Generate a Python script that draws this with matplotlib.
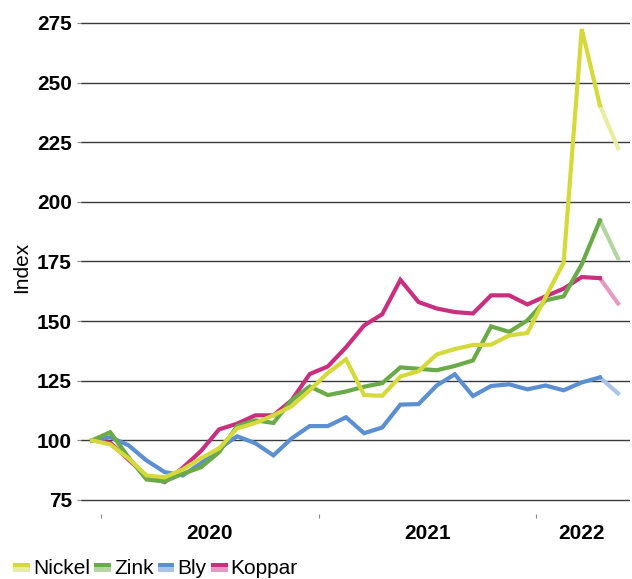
import numpy as np
import pandas as pd
import matplotlib
matplotlib.use('Agg')
import matplotlib.pyplot as plt
from matplotlib.patches import Rectangle
from matplotlib.legend_handler import HandlerBase

plt.rcParams['font.family'] = ['Liberation Sans', 'DejaVu Sans']

# Monthly metal price index, Dec 2019 = 100 (last month preliminary, drawn faded)
months = pd.period_range('2019-12', '2022-05', freq='M')

nickel = [100, 98.3, 92.5, 85.3, 84.5, 87.8, 92.5, 96.6, 105, 107.3, 110.5, 114.3, 121, 128.3, 134,
          119, 118.7, 126.8, 129, 136, 138.3, 140, 140.1, 144, 145, 160, 174.5, 272.5, 240.5, 222.5]
zink = [100, 103.4, 93, 83.6, 82.8, 86, 88.7, 95, 106, 108.4, 107.3, 116.8, 122.6, 119, 120.5,
        122.5, 124, 130.6, 130, 129.4, 131.2, 133.5, 147.8, 145.5, 150.3, 158.7, 160.4, 173.8, 192.2, 176.3]
bly = [100, 101.3, 98, 91.6, 86.7, 85.3, 90.4, 96.6, 101.7, 98.8, 93.7, 100.8, 106, 106, 109.7,
       103, 105.4, 115, 115.2, 123, 127.7, 118.6, 122.8, 123.5, 121.4, 123, 121, 124.3, 126.4, 119.7]
koppar = [100, 99, 92, 85, 82.5, 88.5, 95.5, 104.6, 107, 110.5, 110.5, 116.8, 127.8, 131, 139,
          148.2, 152.9, 167.3, 158, 155.3, 153.8, 153.2, 160.8, 160.8, 157, 160.4, 163.6, 168.5, 168, 157.4]

names = ['Nickel', 'Zink', 'Bly', 'Koppar']
series = [nickel, zink, bly, koppar]
colors = ['#d5da3a', '#6aaa48', '#5b8fd2', '#c8307f']
light_colors = ['#e9eda0', '#b4d4a2', '#aac4e8', '#e59ac4']

x = np.arange(len(months))
years = months.year.values
year_breaks = [i - 0.5 for i in range(1, len(months)) if years[i] != years[i - 1]]
year_names = sorted(set(years[1:]))
year_centers = [x[years == yr].mean() for yr in year_names]


class TwoTone:
    def __init__(self, dark, light):
        self.dark = dark
        self.light = light


class TwoToneHandler(HandlerBase):
    def create_artists(self, legend, orig_handle, xdescent, ydescent, width, height, fontsize, trans):
        h = height * 0.32
        y0 = -ydescent + height * 0.42
        top = Rectangle((-xdescent, y0), width, h, facecolor=orig_handle.dark, edgecolor='none', transform=trans)
        bot = Rectangle((-xdescent, y0 - h), width, h, facecolor=orig_handle.light, edgecolor='none', transform=trans)
        return [top, bot]


fig = plt.figure(figsize=(6.32, 5.79), dpi=100)
ax = fig.add_axes([81 / 632, 1 - 514 / 579, 549 / 632, 493.4 / 579])

# draw Koppar first so Nickel ends on top
for vals, c, lc in list(zip(series, colors, light_colors))[::-1]:
    ax.plot(x[:-1], vals[:-1], color=c, lw=3, solid_joinstyle='miter', zorder=3)
    ax.plot(x[-2:], vals[-2:], color=lc, lw=3, solid_joinstyle='miter', zorder=2)

ax.set_xlim(-0.61, 29.66)
ax.set_ylim(69.13, 276)
ax.set_yticks(np.arange(75, 276, 25))
ax.yaxis.grid(True, color='#3a3a3a', lw=1)
ax.set_axisbelow(True)
for s in ax.spines.values():
    s.set_visible(False)

ax.tick_params(axis='y', length=3, color='#8a8a8a', pad=3.5, labelsize=15)
for lab in ax.get_yticklabels():
    lab.set_fontweight('bold')

ax.set_xticks(year_breaks)
ax.set_xticklabels([])
ax.tick_params(axis='x', which='major', length=3, color='#8a8a8a')
ax.set_xticks(year_centers, minor=True)
ax.set_xticklabels([str(y) for y in year_names], minor=True, fontsize=15, fontweight='bold')
ax.tick_params(axis='x', which='minor', length=0, pad=7)

ax.set_ylabel('Index', fontsize=15, labelpad=4)

handles = [TwoTone(c, lc) for c, lc in zip(colors, light_colors)]
fig.legend(handles, names, handler_map={TwoTone: TwoToneHandler()}, loc='center left',
           bbox_to_anchor=(0.021, 1 - 568 / 579), ncol=4, frameon=False, fontsize=15,
           handlelength=0.8, handletextpad=0.15, columnspacing=0.2, borderpad=0, borderaxespad=0)

fig.savefig('out.png', dpi=100)
